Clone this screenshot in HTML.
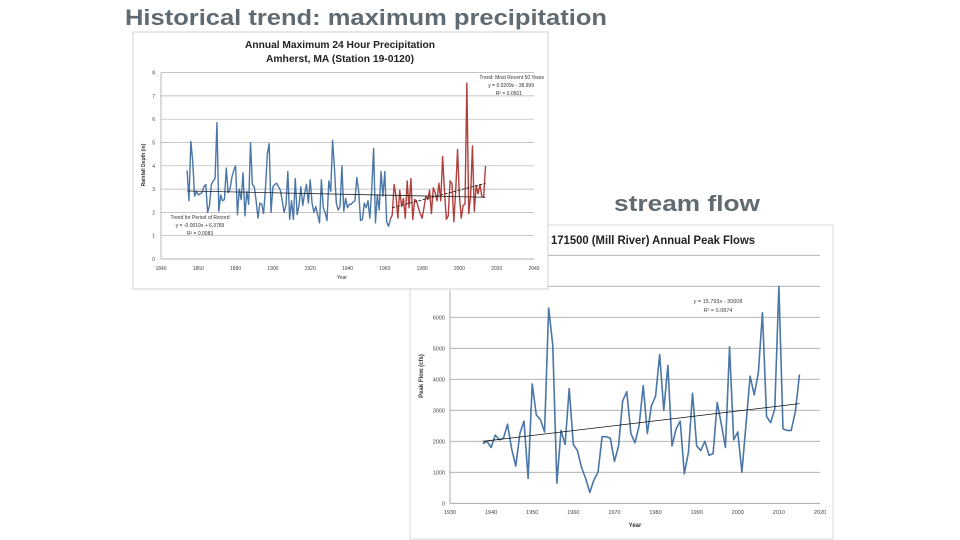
<!DOCTYPE html>
<html><head><meta charset="utf-8">
<style>
html,body{margin:0;padding:0;background:#fff;}
svg{display:block;font-family:"Liberation Sans",sans-serif;}
</style></head>
<body>
<svg id="s" width="960" height="540" viewBox="0 0 960 540">
<text x="125" y="25" font-size="22" font-weight="bold" fill="#5f6a72" textLength="482" lengthAdjust="spacingAndGlyphs">Historical trend: maximum precipitation</text>
<text x="614" y="211" font-size="22" font-weight="bold" fill="#5f6a72" textLength="146" lengthAdjust="spacingAndGlyphs">stream flow</text>

<g id="c2">
<rect x="410" y="225" width="423" height="314" fill="#fff" stroke="#d8d8d8"/>
<text x="551" y="244" font-size="12" font-weight="bold" fill="#222" textLength="204" lengthAdjust="spacingAndGlyphs">171500 (Mill River) Annual Peak Flows</text>
<text transform="translate(423,376) rotate(-90)" font-size="6" font-weight="bold" text-anchor="middle" fill="#333">Peak Flow (cfs)</text>
<text x="635" y="527" font-size="6" font-weight="bold" text-anchor="middle" fill="#333">Year</text>
<text x="718" y="303" font-size="5.5" text-anchor="middle" fill="#444">y = 15.793x - 30608</text>
<text x="718" y="312" font-size="5.5" text-anchor="middle" fill="#444">R² = 0.0874</text>
</g>

<g id="c1">
<rect x="133" y="32" width="415" height="257" fill="#fff" stroke="#d0d0d0"/>
<text x="340" y="48" font-size="10.5" font-weight="bold" text-anchor="middle" fill="#222" textLength="190" lengthAdjust="spacingAndGlyphs">Annual Maximum 24 Hour Precipitation</text>
<text x="340" y="62" font-size="10.5" font-weight="bold" text-anchor="middle" fill="#222" textLength="148" lengthAdjust="spacingAndGlyphs">Amherst, MA (Station 19-0120)</text>
<text transform="translate(145,165) rotate(-90)" font-size="5" font-weight="bold" text-anchor="middle" fill="#333">Rainfall Depth (in)</text>
<text x="342" y="279" font-size="5" text-anchor="middle" fill="#333">Year</text>
<text x="200" y="219" font-size="5" text-anchor="middle" fill="#333">Trend for Period of Record</text>
<text x="200" y="227" font-size="5" text-anchor="middle" fill="#333">y = -0.0019x + 6.3789</text>
<text x="200" y="235" font-size="5" text-anchor="middle" fill="#333">R² = 0.0083</text>
<text x="544" y="79" font-size="5" text-anchor="end" fill="#333">Trend: Most Recent 50 Years</text>
<text x="534" y="87" font-size="5" text-anchor="end" fill="#333">y = 0.0209x - 38.999</text>
<text x="522" y="95" font-size="5" text-anchor="end" fill="#333">R² = 0.0501</text>
</g>

<script>
// Chart 2 data
const flowYears = [1938,1939,1940,1941,1942,1943,1944,1945,1946,1947,1948,1949,1950,1951,1952,1953,1954,1955,1956,1957,1958,1959,1960,1961,1962,1963,1964,1965,1966,1967,1968,1969,1970,1971,1972,1973,1974,1975,1976,1977,1978,1979,1980,1981,1982,1983,1984,1985,1986,1987,1988,1989,1990,1991,1992,1993,1994,1995,1996,1997,1998,1999,2000,2001,2002,2003,2004,2005,2006,2007,2008,2009,2010,2011,2012,2013,2014,2015];
const flowValues = [1920,2000,1800,2200,2050,2100,2550,1750,1200,2250,2650,800,3850,2850,2700,2300,6300,5100,650,2350,1900,3700,1900,1700,1150,800,350,750,1000,2150,2150,2100,1350,1850,3300,3600,2250,1950,2500,3800,2250,3150,3450,4800,3000,4450,1850,2400,2650,950,1650,3550,1850,1700,2000,1550,1600,3250,2550,1800,5050,2050,2300,1000,2550,4100,3500,4200,6150,2800,2600,3050,7000,2400,2350,2350,2950,4150];
const flowTrendYears = [1938,2015];
const flowTrendValues = [1999,3215];
const flowYTicks = [0,1000,2000,3000,4000,5000,6000,7000,8000];
const flowYTickLabels = ["0","1000","2000","3000","4000","5000","6000","",""];
const flowXTicks = [1930,1940,1950,1960,1970,1980,1990,2000,2010,2020];

// Chart 1 data
const precipBlueYears = [];
for (let y = 1854; y <= 1963; y++) precipBlueYears.push(y);
const precipBlueValues = [3.8,2.5,5.05,4.2,2.7,2.9,2.75,2.8,2.85,3.1,3.2,2.0,2.3,3.2,3.35,3.45,5.85,2.05,2.75,2.5,2.55,3.9,2.85,3.0,3.5,3.8,4.0,1.9,3.0,2.55,3.7,1.85,2.9,2.35,5.0,3.2,3.1,2.5,1.75,2.4,2.35,1.95,3.0,4.5,4.95,2.0,3.1,3.2,3.25,3.1,2.95,2.5,2.0,2.3,3.75,1.7,2.5,1.7,3.45,1.9,2.3,3.1,2.3,2.8,3.2,2.4,3.4,2.4,2.0,2.25,1.9,1.55,3.4,2.2,2.0,1.65,3.35,2.9,5.1,3.9,2.4,2.1,2.25,4.0,2.05,2.6,2.2,2.35,2.35,2.45,2.5,3.5,2.9,1.65,1.7,2.4,2.2,2.5,1.75,3.0,4.75,1.55,2.75,2.1,3.75,2.7,3.75,1.6,1.4,1.7];
const precipRedYears = [];
for (let y = 1963; y <= 2014; y++) precipRedYears.push(y);
const precipRedValues = [1.7,1.9,3.2,2.7,1.75,2.95,2.25,2.6,1.75,3.35,2.2,3.45,1.7,2.55,2.5,2.2,1.95,1.75,2.2,2.7,2.55,2.95,1.95,3.05,2.85,2.5,3.25,2.5,4.4,2.9,1.7,1.85,3.35,3.25,1.6,2.9,4.7,2.7,1.75,2.3,2.35,7.55,1.95,2.7,4.85,2.05,3.15,2.8,3.2,2.7,2.65,4.0];
const recordTrendYears = [1854,2014];
const recordTrendValues = [2.92,2.65];
const recentTrendYears = [1964,2014];
const recentTrendValues = [2.2,3.25];
const precipYTicks = [0,1,2,3,4,5,6,7,8];
const precipXTicks = [1840,1860,1880,1900,1920,1940,1960,1980,2000,2020,2040];

const NS = "http://www.w3.org/2000/svg";
function mk(parent, tag, attrs){const e=document.createElementNS(NS,tag);for(const k in attrs)e.setAttribute(k,attrs[k]);parent.appendChild(e);return e;}

// Chart 2 axes
const fx = y => 450 + (y-1930)*(370/90);
const fy = v => 503.3 - v*0.031;
const c2 = document.getElementById('c2');
flowYTicks.forEach((t,i)=>{
  const l = mk(c2,'line',{x1:450,x2:820,y1:fy(t),y2:fy(t),stroke:t===0?'#999':'#a8a8a8','stroke-width':0.8});
  
  
  if (flowYTickLabels[i]) {
    const tx = mk(c2,'text',{x:445,y:fy(t)+2,'font-size':5.5,'text-anchor':'end',fill:'#444'});
    tx.textContent = flowYTickLabels[i];
    
    
  }
});
const ax2 = mk(c2,'line',{x1:450,x2:450,y1:290,y2:503.3,stroke:'#999','stroke-width':0.8});


flowXTicks.forEach(t=>{
  const tx = mk(c2,'text',{x:fx(t),y:514,'font-size':5.5,'text-anchor':'middle',fill:'#444'});
  tx.textContent = t;
  
  
});
const fp = mk(c2,'polyline',{points:flowYears.map((y,i)=>fx(y)+','+fy(flowValues[i])).join(' '),fill:'none',stroke:'#4a76a8','stroke-width':1.6,'stroke-linejoin':'round'});


const ft = mk(c2,'line',{x1:fx(flowTrendYears[0]),y1:fy(flowTrendValues[0]),x2:fx(flowTrendYears[1]),y2:fy(flowTrendValues[1]),stroke:'#111','stroke-width':0.8});



// Chart 1 axes
const px = y => 161 + (y-1840)*(373/200);
const py = v => 259 - v*23.3;
const c1 = document.getElementById('c1');
precipYTicks.forEach(t=>{
  const l = mk(c1,'line',{x1:161,x2:534,y1:py(t),y2:py(t),stroke:t===0?'#999':'#b0b0b0','stroke-width':0.7});
  
  
  const tx = mk(c1,'text',{x:155,y:py(t)+2,'font-size':5,'text-anchor':'end',fill:'#444'});
  tx.textContent = t;
  
  
});
const ax1 = mk(c1,'line',{x1:161,x2:161,y1:py(8),y2:py(0),stroke:'#999','stroke-width':0.7});


precipXTicks.forEach(t=>{
  const tx = mk(c1,'text',{x:px(t),y:270,'font-size':5,'text-anchor':'middle',fill:'#444'});
  tx.textContent = t;
  
  
});
const bp = mk(c1,'polyline',{points:precipBlueYears.map((y,i)=>px(y)+','+py(precipBlueValues[i])).join(' '),fill:'none',stroke:'#4a76a8','stroke-width':1.4,'stroke-linejoin':'round'});


const rp = mk(c1,'polyline',{points:precipRedYears.map((y,i)=>px(y)+','+py(precipRedValues[i])).join(' '),fill:'none',stroke:'#b0403e','stroke-width':1.4,'stroke-linejoin':'round'});


const rt = mk(c1,'line',{x1:px(recordTrendYears[0]),y1:py(recordTrendValues[0]),x2:px(recordTrendYears[1]),y2:py(recordTrendValues[1]),stroke:'#222','stroke-width':0.8});


const nt = mk(c1,'line',{x1:px(recentTrendYears[0]),y1:py(recentTrendValues[0]),x2:px(recentTrendYears[1]),y2:py(recentTrendValues[1]),stroke:'#222','stroke-width':0.9,'stroke-dasharray':'3,1.5'});


</script>
</svg>
</body></html>
